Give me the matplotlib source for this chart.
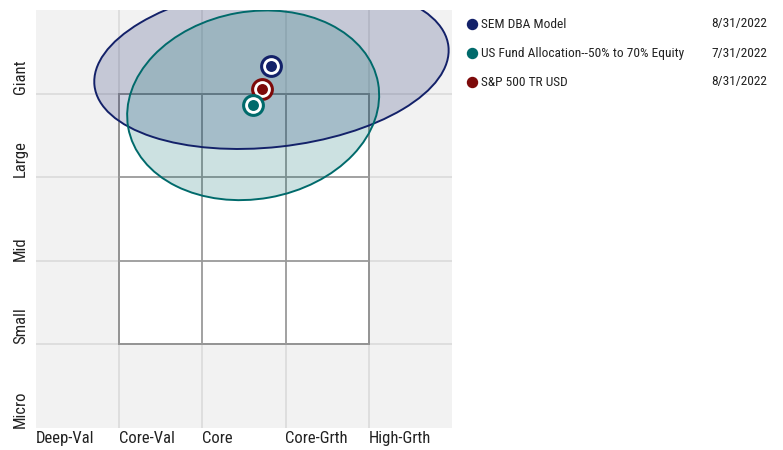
import matplotlib
matplotlib.use("Agg")
import matplotlib.pyplot as plt
from matplotlib.patches import Ellipse, Rectangle
from matplotlib.lines import Line2D

# Style box categories
style_labels = ["Deep-Val", "Core-Val", "Core", "Core-Grth", "High-Grth"]
size_labels = ["Micro", "Small", "Mid", "Large", "Giant"]

# Holdings (legend order)
names = ["SEM DBA Model", "US Fund Allocation--50% to 70% Equity", "S&P 500 TR USD"]
dates = ["8/31/2022", "7/31/2022", "8/31/2022"]
style_score = [2.83, 2.61, 2.72]
size_score = [4.33, 3.86, 4.05]

# Ownership zones (the index has none)
zone_width = [4.28, 3.05, None]
zone_height = [1.94, 2.24, None]
zone_angle = [6.3, 10.0, None]

colors = ["#132169", "#006a6b", "#7d0a0a"]

plt.rcParams["font.family"] = ["Roboto Condensed", "Archivo Narrow", "Liberation Sans", "DejaVu Sans"]

fig = plt.figure(figsize=(7.83, 4.5), dpi=100)
ax = fig.add_axes([36 / 783, 22 / 450, 416 / 783, 418 / 450])
ax.set_xlim(0, 5)
ax.set_ylim(0, 5)
ax.set_facecolor("#f2f2f2")
for s in ax.spines.values():
    s.set_visible(False)
ax.set_xticks([])
ax.set_yticks([])

# light outer grid
for i in range(1, 5):
    ax.axvline(i, color="#dcdcdc", lw=1.3, zorder=1)
    ax.axhline(i, color="#dcdcdc", lw=1.3, zorder=1)

# the 3x3 style box
ax.add_patch(Rectangle((1, 1), 3, 3, facecolor="white", edgecolor="#939393", lw=1.4, zorder=2))
for i in (2, 3):
    ax.plot([i, i], [1, 4], color="#9a9a9a", lw=1.3, zorder=2)
    ax.plot([1, 4], [i, i], color="#9a9a9a", lw=1.3, zorder=2)

# ownership zones
for i in range(len(names)):
    if zone_width[i] is None:
        continue
    ax.add_patch(Ellipse((style_score[i], size_score[i]), zone_width[i], zone_height[i],
                         angle=zone_angle[i], facecolor=colors[i], alpha=0.2, zorder=3))
    ax.add_patch(Ellipse((style_score[i], size_score[i]), zone_width[i], zone_height[i],
                         angle=zone_angle[i], facecolor="none", edgecolor=colors[i],
                         lw=1.4, zorder=4))

# centroids, drawn navy, red, teal
for i in [0, 2, 1]:
    ax.scatter(style_score[i], size_score[i], s=270, color=colors[i], zorder=5, lw=0)
    ax.scatter(style_score[i], size_score[i], s=145, color="white", zorder=5, lw=0)
    ax.scatter(style_score[i], size_score[i], s=62, color=colors[i], zorder=5, lw=0)

# axis labels
for i, lab in enumerate(style_labels):
    ax.text(i - 0.005, -0.008, lab, transform=ax.get_xaxis_transform(),
            ha="left", va="top", fontsize=12, color="#222222")
for i, lab in enumerate(size_labels):
    ax.text(-0.037, i, lab, transform=ax.get_yaxis_transform(), rotation=90,
            rotation_mode="anchor", ha="left", va="center", fontsize=12, color="#222222")

# legend
for i in range(len(names)):
    y = 1 - (24 + i * 29) / 450
    fig.add_artist(Line2D([471.7 / 783], [y], marker="o", ms=7.2, color=colors[i],
                          lw=0, transform=fig.transFigure))
    fig.text(480.7 / 783, y, names[i], ha="left", va="center", fontsize=9.6, color="#222222")
    fig.text(767 / 783, y, dates[i], ha="right", va="center", fontsize=9.6, color="#222222")

fig.savefig("out.png", dpi=100)
